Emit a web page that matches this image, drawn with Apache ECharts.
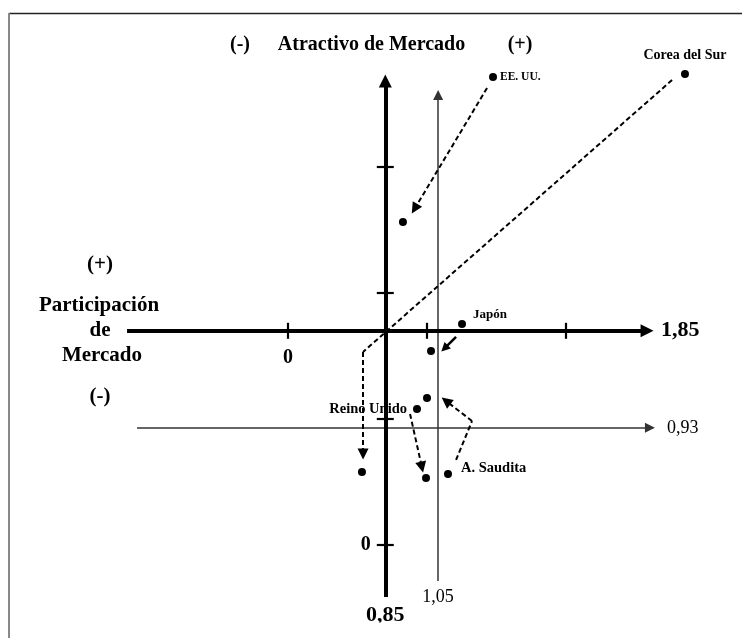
<!DOCTYPE html>
<html><head><meta charset="utf-8">
<script src="https://cdn.jsdelivr.net/npm/echarts@6/dist/echarts.min.js"></script>
<style>html,body{margin:0;padding:0;background:#fff}#c{width:742px;height:638px}</style>
</head><body><div id="c"></div>
<script>
// ---- data (x: Atractivo de Mercado, y: Participación de Mercado) ----
const countries  = ['Corea del Sur', 'EE. UU.', 'Japón', 'Reino Unido', 'A. Saudita'];
const posBefore  = [[2.856, 3.738], [1.475, 3.714], [1.252, 1.754], [0.928, 1.079], [1.151, 0.563]];
const posAfter   = [[0.532, 0.579], [0.827, 2.563], [1.029, 1.540], [0.993, 0.532], [1.000, 1.167]];

// movement arrows (dashed except Japón)
const pathCorea  = [[2.763, 3.690], [0.540, 1.532], [0.540, 0.722]];
const pathEEUU   = [[1.432, 3.627], [0.911, 2.669]];
const pathReino  = [[0.878, 1.040], [0.963, 0.618]];
const pathSaudi  = [[1.209, 0.675], [1.324, 0.984], [1.137, 1.143]];
const pathJapon  = [[1.209, 1.651], [1.126, 1.560]];

// axes and reference lines
const axisCross   = [0.7, 1.7];
const hAxisExtent = [-1.158, 2.583];
const vAxisExtent = [-0.413, 3.683];
const refX = 1.08, refXExtent = [-0.286, 3.571];
const refY = 0.93, refYExtent = [-1.086, 2.604];
const xTicks = [0, 1, 2],    xTickLabels = ['0', '', ''];
const yTicks = [0, 1, 2, 3], yTickLabels = ['0', '', '', ''];
const hAxisLabel = '1,85', vAxisLabel = '0,85', refXLabel = '1,05', refYLabel = '0,93';

// ---- styles ----
const FONT = '"Liberation Serif", "Times New Roman", serif';
const BLACK = '#000';

function segments(path) {
  const out = [];
  for (let i = 0; i < path.length - 1; i++) out.push({ coords: [path[i], path[i + 1]], last: i === path.length - 2 });
  return out;
}
const dashedPaths = [pathCorea, pathEEUU, pathReino, pathSaudi];
const dashedPlain = [], dashedArrow = [];
dashedPaths.forEach(p => segments(p).forEach(s => (s.last ? dashedArrow : dashedPlain).push({ coords: s.coords })));

const labelCfg = {
  'Corea del Sur': { position: 'top', distance: 8, fontSize: 14 },
  'EE. UU.':       { position: 'right', distance: 3, fontSize: 11.5 },
  'Japón':         { position: 'right', distance: 7, offset: [0, -9], fontSize: 13 },
  'Reino Unido':   { position: 'left', distance: 6, fontSize: 14.5 },
  'A. Saudita':    { position: 'right', distance: 9, offset: [0, -6], fontSize: 14.5 }
};

const dotData = countries.map((n, i) => ({
  value: posBefore[i], name: n,
  label: Object.assign({ show: true, color: BLACK, fontFamily: FONT, fontWeight: 'bold' }, labelCfg[n])
})).concat(posAfter.map(p => ({ value: p, name: '' })));

const chart = echarts.init(document.getElementById('c'), null, { renderer: 'canvas' });
const txt = (text, x, y, size, align) => ({
  type: 'text', x: x, y: y, silent: true,
  style: { text: text, fill: BLACK, font: 'bold ' + size + 'px ' + FONT,
           align: align || 'center', verticalAlign: 'middle',
           textAlign: align || 'center', textVerticalAlign: 'middle' }
});

chart.setOption({
  animation: false,
  backgroundColor: '#fff',
  grid: { left: 10, right: 9.2, top: 15.8, bottom: 17.4 },
  xAxis: { type: 'value', min: -2, max: 3.2, show: false },
  yAxis: { type: 'value', min: -0.6, max: 4.2, show: false },
  graphic: [
    { type: 'line', silent: true, shape: { x1: 9, y1: 13.5, x2: 742, y2: 13.5 }, style: { stroke: '#222', lineWidth: 1.5 } },
    { type: 'line', silent: true, shape: { x1: 9, y1: 13, x2: 9, y2: 638 }, style: { stroke: '#888', lineWidth: 2 } },
    txt('(-)', 240, 45, 20),
    txt('Atractivo de Mercado', 371.5, 45, 20),
    txt('(+)', 520, 45, 20),
    txt('(+)', 100, 265, 21),
    txt('Participación', 99, 306, 21),
    txt('de', 100, 331, 21),
    txt('Mercado', 102, 356, 21),
    txt('(-)', 100, 397, 21)
  ],
  series: [
    { // thin reference lines
      type: 'lines', coordinateSystem: 'cartesian2d', silent: true, z: 2,
      symbol: ['none', 'triangle'], symbolSize: 10,
      lineStyle: { color: '#333', width: 1.5, opacity: 1, curveness: 0 },
      label: { show: true, formatter: '{b}', color: BLACK, fontFamily: FONT, fontSize: 18 },
      data: [
        { name: refYLabel, coords: [[refYExtent[0], refY], [refYExtent[1], refY]], label: { position: 'end', distance: 17 } },
        { name: refXLabel, coords: [[refX, refXExtent[0]], [refX, refXExtent[1]]], label: { position: 'start', distance: 7 } }
      ]
    },
    { // thick axes
      type: 'lines', coordinateSystem: 'cartesian2d', silent: true, z: 3,
      symbol: ['none', 'triangle'], symbolSize: 13,
      lineStyle: { color: '#000', width: 4, opacity: 1, curveness: 0 },
      label: { show: true, formatter: '{b}', color: BLACK, fontFamily: FONT, fontWeight: 'bold', fontSize: 22 },
      data: [
        { name: hAxisLabel, coords: [[hAxisExtent[0], axisCross[1]], [hAxisExtent[1], axisCross[1]]], label: { position: 'end', distance: 14 } },
        { name: vAxisLabel, coords: [[axisCross[0], vAxisExtent[0]], [axisCross[0], vAxisExtent[1]]], label: { position: 'start', distance: 7 } }
      ]
    },
    { // axis ticks (horizontal axis)
      type: 'scatter', silent: true, z: 4, symbol: 'rect', symbolSize: [2.2, 16],
      itemStyle: { color: '#000', opacity: 1 },
      label: { show: true, position: 'bottom', distance: 9, formatter: '{b}', color: BLACK, fontFamily: FONT, fontWeight: 'bold', fontSize: 20 },
      data: xTicks.map((v, i) => ({ value: [v, axisCross[1]], name: xTickLabels[i] }))
    },
    { // axis ticks (vertical axis)
      type: 'scatter', silent: true, z: 4, symbol: 'rect', symbolSize: [17, 2.2],
      itemStyle: { color: '#000', opacity: 1 },
      label: { show: true, position: 'left', distance: 6, formatter: '{b}', color: BLACK, fontFamily: FONT, fontWeight: 'bold', fontSize: 20 },
      data: yTicks.map((v, i) => ({ value: [axisCross[0], v], name: yTickLabels[i] }))
    },
    { // dashed segments (no head)
      type: 'lines', coordinateSystem: 'cartesian2d', silent: true, z: 5,
      symbol: 'none',
      lineStyle: { color: '#000', width: 2, type: [5, 3], opacity: 1, curveness: 0 },
      data: dashedPlain
    },
    { // dashed segments with arrow head
      type: 'lines', coordinateSystem: 'cartesian2d', silent: true, z: 5,
      symbol: ['none', 'triangle'], symbolSize: 11,
      lineStyle: { color: '#000', width: 2, type: [5, 3], opacity: 1, curveness: 0 },
      data: dashedArrow
    },
    { // Japón solid arrow
      type: 'lines', coordinateSystem: 'cartesian2d', silent: true, z: 5,
      symbol: ['none', 'triangle'], symbolSize: 9,
      lineStyle: { color: '#000', width: 2.5, opacity: 1, curveness: 0 },
      data: [{ coords: pathJapon }]
    },
    { // countries
      type: 'scatter', silent: true, z: 6, symbol: 'circle', symbolSize: 8,
      itemStyle: { color: '#000', opacity: 1 },
      label: { formatter: '{b}', color: BLACK, fontFamily: FONT, fontWeight: 'bold' },
      data: dotData
    }
  ]
});
</script></body></html>
